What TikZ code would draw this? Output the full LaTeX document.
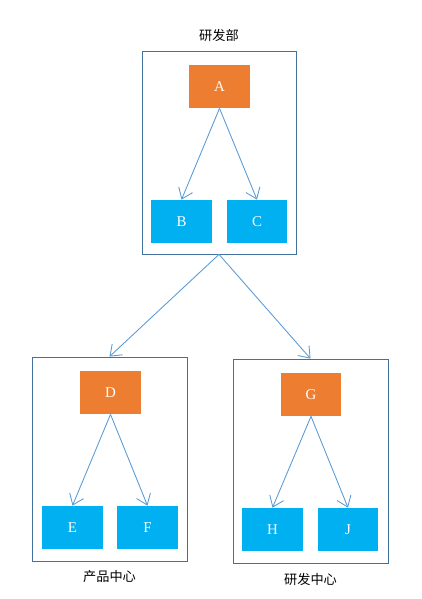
\documentclass[tikz,border=0pt]{standalone}
\usepackage{fontspec}
\setmainfont{Liberation Serif}
\newfontfamily\cjk{Noto Sans CJK SC}
\usetikzlibrary{arrows.meta, positioning}
\usepackage{xcolor}

\definecolor{boxorange}{HTML}{ED7D31}
\definecolor{boxblue}{HTML}{00B0F0}
\definecolor{frameblue}{HTML}{41719C}
\definecolor{linkblue}{HTML}{5B9BD5}

\tikzset{
  unit/.style={minimum width=1.22cm, minimum height=0.86cm, inner sep=0pt,
    text=white, font=\fontsize{8.5}{10}\selectfont},
  head/.style={unit, fill=boxorange},
  member/.style={unit, fill=boxblue},
  group/.style={draw=frameblue, line width=0.45pt, inner sep=0pt},
  grouplabel/.style={font=\cjk\fontsize{7.5}{9}\selectfont},
  link/.style={draw=linkblue, line width=0.5pt,
    -{Straight Barb[length=2mm, width=3mm]}}
}

\begin{document}
\begin{tikzpicture}[x=0.02cm, y=-0.02cm]
  \useasboundingbox (0,0) rectangle (422,599);

  % group frames
  \node[group, minimum width=3.08cm, minimum height=4.06cm] (dept) at (219,152.5) {};
  \node[group, minimum width=3.10cm, minimum height=4.08cm] (prod) at (109.5,459) {};
  \node[group, minimum width=3.10cm, minimum height=4.08cm] (rnd) at (310.5,461) {};

  % group labels
  \node[grouplabel] (deptlabel) at (219,35) {研发部};
  \node[grouplabel] (prodlabel) at (109.5,577) {产品中心};
  \node[grouplabel] (rndlabel) at (310.5,579) {研发中心};

  % heads and members
  \node[head] (A) at (219.5,86.5) {A};
  \node[member] (B) at (181.5,221.5) {B};
  \node[member] (C) at (257,221.5) {C};

  \node[head] (D) at (110.5,392.5) {D};
  \node[member] (E) at (72.5,527.5) {E};
  \node[member] (F) at (147.5,527.5) {F};

  \node[head] (G) at (311,394.5) {G};
  \node[member] (H) at (272.5,529.5) {H};
  \node[member] (J) at (348,529.5) {J};

  % links inside the groups
  \foreach \h/\a/\b in {A/B/C, D/E/F, G/H/J} {
      \draw[link] (\h.south) -- (\a.north);
      \draw[link] (\h.south) -- (\b.north);
    }

  % links between the groups
  \foreach \g in {prod, rnd} {
      \draw[link] (dept.south) -- (\g.north);
    }
\end{tikzpicture}
\end{document}
